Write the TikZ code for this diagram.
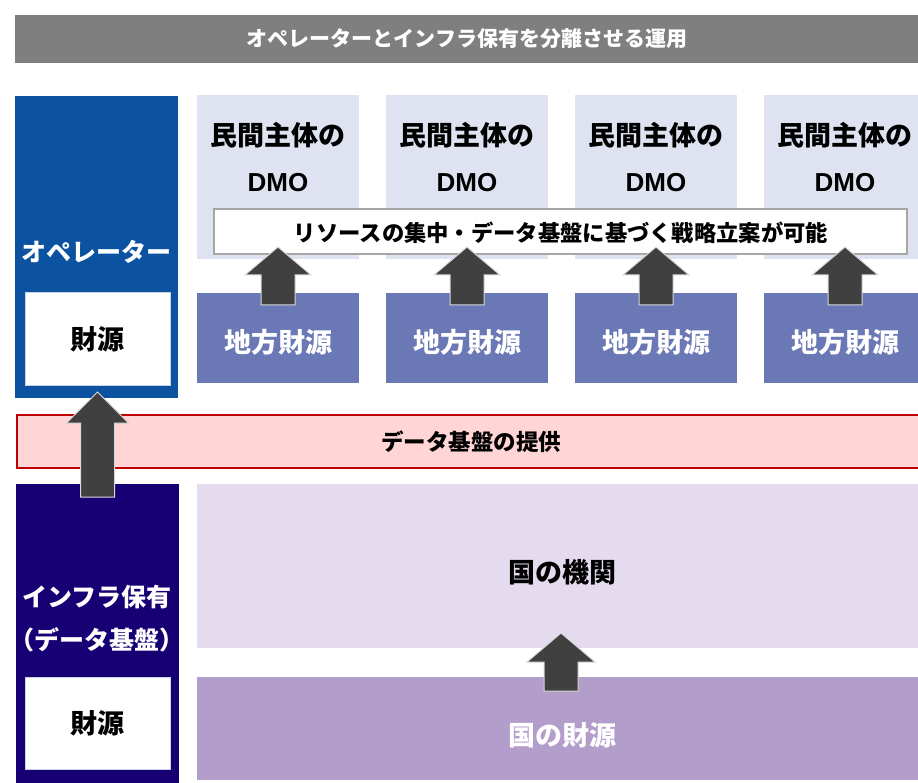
\documentclass[tikz,border=0pt]{standalone}
\usepackage{fontspec}
\newfontfamily\jp{Noto Sans CJK JP}
\newfontfamily\lat{Liberation Sans}
\usetikzlibrary{calc}
\definecolor{bannergray}{HTML}{7F7F7F}
\definecolor{opblue}{HTML}{0B52A0}
\definecolor{dmobg}{HTML}{DFE2F0}
\definecolor{localbg}{HTML}{6A78B5}
\definecolor{pinkbg}{HTML}{FFD5D5}
\definecolor{pinkline}{HTML}{C00000}
\definecolor{infranavy}{HTML}{160074}
\definecolor{kikanbg}{HTML}{E4DCEE}
\definecolor{zaigenbg}{HTML}{B39DCB}
\definecolor{arrowgray}{HTML}{404040}
\definecolor{arrowedge}{HTML}{D9D9D9}
\definecolor{stripline}{HTML}{A6A6A6}
\definecolor{finline}{HTML}{C9D3E6}
\begin{document}
\begin{tikzpicture}[x=1pt,y=-1pt,
  box/.style={rectangle,inner sep=0pt,outer sep=0pt,anchor=north west},
  txt/.style={inner sep=0pt,anchor=center,font=\jp\bfseries\fontsize{#1}{#1}\selectfont},
  dmotxt/.style={inner sep=0pt,anchor=center,font=\lat\bfseries\fontsize{26}{26}\selectfont},
  uparrow/.style={fill=arrowgray,draw=arrowedge,line width=1pt},
  pics/uparr/.style n args={3}{code={
    \draw[uparrow] (-17,0) -- (-17,-#1) -- (-#3,-#1) -- (0,-#2) -- (#3,-#1) -- (17,-#1) -- (17,0) -- cycle;
  }}]
\useasboundingbox (0,0) rectangle (918,783);
\clip (0,0) rectangle (918,783);
\fill[white] (0,0) rectangle (918,783);
% banner
\node[box,fill=bannergray,minimum width=910pt,minimum height=48pt] (banner) at (15,15) {};
\node[txt=21,text=white] (bannertxt) at (467,39) {オペレーターとインフラ保有を分離させる運用};
% operator
\node[box,fill=opblue,minimum width=163pt,minimum height=302pt] (op) at (15,96) {};
\node[txt=25,text=white] (optxt) at (96,252) {オペレーター};
\node[box,fill=white,draw=finline,line width=1pt,minimum width=145pt,minimum height=92pt] (opfin) at (25,293) {};
\node[txt=27] (opfintxt) at (opfin.center) {財源};
% DMO boxes and local finances
\foreach \i in {0,1,2,3}{
  \pgfmathsetmacro\xx{197+189*\i}
  \node[box,fill=dmobg,minimum width=162pt,minimum height=164pt] (dmo\i) at (\xx,95) {};
  \node[txt=27] (dmoa\i) at ($(dmo\i.north)+(0,40)$) {民間主体の};
  \node[dmotxt] (dmob\i) at ($(dmo\i.north)+(0,88)$) {DMO};
  \node[box,fill=localbg,minimum width=162pt,minimum height=90pt] (loc\i) at (\xx,293) {};
  \node[txt=27,text=white] (loctxt\i) at ($(loc\i.center)+(0,4)$) {地方財源};
}
% strip
\node[box,fill=white,draw=stripline,line width=1.5pt,minimum width=693pt,minimum height=45pt] (strip) at (214,209) {};
\node[txt=22.3] (striptxt) at (561,233) {リソースの集中・データ基盤に基づく戦略立案が可能};
\foreach \i in {0,1,2,3}{
  \pic at ($(loc\i.north)+(0,12)$) {uparr={30}{58}{33}};
}
% pink band
\node[box,fill=pinkbg,draw=pinkline,line width=1.5pt,minimum width=920pt,minimum height=53pt] (band) at (17,415) {};
\node[txt=22.5] (bandtxt) at (471,442) {データ基盤の提供};
% infra
\node[box,fill=infranavy,minimum width=163pt,minimum height=310pt] (infra) at (16,484) {};
\node[txt=25,text=white] (infratxt) at (97,597) {インフラ保有};
\node[txt=25,text=white] (infratxt2) at (97,640) {（データ基盤）};
\node[box,fill=white,draw=finline,line width=1pt,minimum width=145pt,minimum height=92pt] (infrafin) at (25,677) {};
\node[txt=27] (infrafintxt) at (infrafin.center) {財源};
\pic at ($(infra.north)+(0,13)$) {uparr={74}{105}{31}};
% national
\node[box,fill=kikanbg,minimum width=730pt,minimum height=164pt] (kikan) at (197,484) {};
\node[txt=27] (kikantxt) at (562,572) {国の機関};
\node[box,fill=zaigenbg,minimum width=730pt,minimum height=103pt] (zaigen) at (197,677) {};
\node[txt=27,text=white] (zaigentxt) at (562,735) {国の財源};
\pic at (561,691) {uparr={29}{58}{34}};
\end{tikzpicture}
\end{document}
